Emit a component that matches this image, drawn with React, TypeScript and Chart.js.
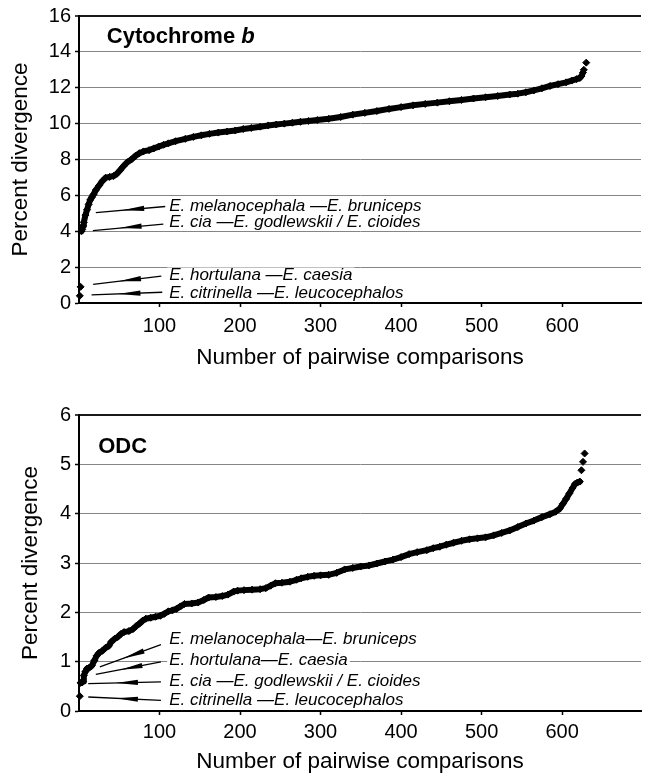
import React, { useEffect, useRef } from "react";
import { Chart, registerables } from "chart.js";

Chart.register(...registerables);

const FONT = '"Liberation Sans", Arial, Helvetica, sans-serif';

// ---------- shared x axis ----------
const X_TICK_LABELS = [100, 200, 300, 400, 500, 600];
const X_MAX = 698;
const X_TITLE = "Number of pairwise comparisons";
const Y_TITLE = "Percent divergence";

// ---------- Cytochrome b ----------
const CYT_Y_MAX = 16;
const CYT_Y_STEP = 2;
const CYT_CURVE_X = [3, 4, 5, 6, 8, 10, 12, 14, 16, 18, 21, 25, 29, 33, 38, 43, 47, 51, 55, 60, 65, 70, 75, 80, 87, 93, 99, 105, 111, 120, 132, 142, 152, 162, 173, 184, 194, 204, 214, 225, 235, 245, 255, 265, 275, 285, 296, 310, 325, 340, 355, 370, 385, 400, 415, 430, 445, 460, 475, 490, 505, 520, 535, 545, 555, 565, 575, 585, 595, 605, 612, 618, 622, 624, 626];
const CYT_CURVE_Y = [4.0, 4.1, 4.3, 4.5, 4.9, 5.2, 5.5, 5.75, 5.9, 6.05, 6.3, 6.55, 6.8, 6.98, 7.03, 7.08, 7.2, 7.4, 7.62, 7.85, 8.0, 8.2, 8.35, 8.45, 8.52, 8.62, 8.72, 8.82, 8.9, 9.02, 9.15, 9.26, 9.35, 9.43, 9.5, 9.56, 9.62, 9.7, 9.76, 9.83, 9.9, 9.95, 10.0, 10.05, 10.1, 10.15, 10.2, 10.27, 10.37, 10.5, 10.6, 10.7, 10.82, 10.92, 11.02, 11.1, 11.17, 11.25, 11.32, 11.4, 11.47, 11.54, 11.62, 11.67, 11.75, 11.85, 11.97, 12.1, 12.2, 12.3, 12.4, 12.48, 12.55, 12.65, 12.85];
const CYT_DOT_X = [1, 2, 627, 630];
const CYT_DOT_Y = [0.4, 0.9, 13.0, 13.4];
const CYT_LABELS = [
  "E. melanocephala \u2014E. bruniceps",
  "E. cia \u2014E. godlewskii / E. cioides",
  "E. hortulana \u2014E. caesia",
  "E. citrinella \u2014E. leucocephalos",
];
const CYT_LABEL_Y = [5.43, 4.54, 1.56, 0.59];
const CYT_ARROW_FROM_X = [107.1, 104.7, 102.2, 103.4];
const CYT_ARROW_FROM_Y = [5.38, 4.4, 1.5, 0.6];
const CYT_ARROW_TO_X = [20.9, 17.2, 17.6, 15.6];
const CYT_ARROW_TO_Y = [5.04, 4.04, 1.04, 0.45];

// ---------- ODC ----------
const ODC_Y_MAX = 6;
const ODC_Y_STEP = 1;
const ODC_CURVE_X = [2, 4, 5, 6, 8, 10, 13, 16, 19, 22, 25, 29, 33, 37, 40, 44, 48, 52, 56, 62, 67, 71, 75, 79, 83, 89, 95, 101, 106, 111, 116, 121, 126, 131, 140, 148, 155, 161, 170, 178, 185, 192, 197, 205, 215, 225, 232, 238, 244, 252, 262, 270, 276, 284, 292, 300, 310, 320, 330, 340, 350, 360, 370, 380, 390, 400, 410, 420, 432, 440, 448, 456, 465, 475, 485, 495, 505, 515, 525, 535, 545, 555, 565, 575, 585, 592, 597, 601, 605, 609, 613, 616, 619, 622];
const ODC_CURVE_Y = [0.57, 0.58, 0.6, 0.72, 0.8, 0.86, 0.88, 0.92, 1.02, 1.12, 1.18, 1.22, 1.28, 1.32, 1.4, 1.46, 1.5, 1.56, 1.6, 1.62, 1.66, 1.72, 1.77, 1.83, 1.87, 1.89, 1.91, 1.93, 1.97, 2.02, 2.04, 2.07, 2.12, 2.17, 2.18, 2.2, 2.25, 2.3, 2.31, 2.33, 2.36, 2.42, 2.44, 2.45, 2.46, 2.47, 2.49, 2.54, 2.59, 2.6, 2.62, 2.66, 2.69, 2.72, 2.74, 2.75, 2.76, 2.8, 2.87, 2.9, 2.93, 2.95, 2.99, 3.03, 3.07, 3.12, 3.18, 3.22, 3.26, 3.3, 3.33, 3.37, 3.41, 3.45, 3.48, 3.5, 3.52, 3.56, 3.61, 3.66, 3.73, 3.8, 3.86, 3.93, 3.99, 4.04, 4.1, 4.2, 4.3, 4.41, 4.52, 4.6, 4.63, 4.65];
const ODC_DOT_X = [1, 624, 626, 628];
const ODC_DOT_Y = [0.3, 4.88, 5.05, 5.22];
const ODC_LABELS = [
  "E. melanocephala\u2014E. bruniceps",
  "E. hortulana\u2014E. caesia",
  "E. cia \u2014E. godlewskii / E. cioides",
  "E. citrinella \u2014E. leucocephalos",
];
const ODC_LABEL_Y = [1.47, 1.04, 0.62, 0.23];
const ODC_ARROW_FROM_X = [101.8, 101.8, 101.8, 101.8];
const ODC_ARROW_FROM_Y = [1.344, 0.995, 0.589, 0.217];
const ODC_ARROW_TO_X = [25.9, 20.9, 11.5, 11.5];
const ODC_ARROW_TO_Y = [0.894, 0.741, 0.556, 0.284];

const LABEL_X = 112;

type PanelCfg = {
  height: number;
  padTop: number;
  xAxisH: number;
  xTickPad: number;
  xTitlePadBottom: number;
  yTitlePad: number;
  yMax: number;
  yStep: number;
  curveX: number[];
  curveY: number[];
  dotX: number[];
  dotY: number[];
  labels: string[];
  labelY: number[];
  fromX: number[];
  fromY: number[];
  toX: number[];
  toY: number[];
  title: string;
  titleItalic: string;
  titleAt: [number, number];
};

const PANELS: PanelCfg[] = [
  {
    height: 380,
    padTop: 16,
    xAxisH: 77,
    xTickPad: 7,
    xTitlePadBottom: 8.5,
    yTitlePad: 7,
    yMax: CYT_Y_MAX,
    yStep: CYT_Y_STEP,
    curveX: CYT_CURVE_X,
    curveY: CYT_CURVE_Y,
    dotX: CYT_DOT_X,
    dotY: CYT_DOT_Y,
    labels: CYT_LABELS,
    labelY: CYT_LABEL_Y,
    fromX: CYT_ARROW_FROM_X,
    fromY: CYT_ARROW_FROM_Y,
    toX: CYT_ARROW_TO_X,
    toY: CYT_ARROW_TO_Y,
    title: "Cytochrome ",
    titleItalic: "b",
    titleAt: [34.5, 14.84],
  },
  {
    height: 395,
    padTop: 35,
    xAxisH: 64,
    xTickPad: 5,
    xTitlePadBottom: 0,
    yTitlePad: 17,
    yMax: ODC_Y_MAX,
    yStep: ODC_Y_STEP,
    curveX: ODC_CURVE_X,
    curveY: ODC_CURVE_Y,
    dotX: ODC_DOT_X,
    dotY: ODC_DOT_Y,
    labels: ODC_LABELS,
    labelY: ODC_LABEL_Y,
    fromX: ODC_ARROW_FROM_X,
    fromY: ODC_ARROW_FROM_Y,
    toX: ODC_ARROW_TO_X,
    toY: ODC_ARROW_TO_Y,
    title: "ODC",
    titleItalic: "",
    titleAt: [23.8, 5.36],
  },
];

function drawArrow(ctx: CanvasRenderingContext2D, x1: number, y1: number, x2: number, y2: number) {
  ctx.save();
  ctx.strokeStyle = "#000";
  ctx.fillStyle = "#000";
  ctx.lineWidth = 1.3;
  ctx.beginPath();
  ctx.moveTo(x1, y1);
  ctx.lineTo(x2, y2);
  ctx.stroke();
  const dx = x2 - x1;
  const dy = y2 - y1;
  const len = Math.hypot(dx, dy);
  const ux = dx / len;
  const uy = dy / len;
  const tx = x1 + dx * 0.62;
  const ty = y1 + dy * 0.62;
  const bx = tx - ux * 22;
  const by = ty - uy * 22;
  const px = -uy;
  const py = ux;
  ctx.beginPath();
  ctx.moveTo(tx, ty);
  ctx.lineTo(bx + px * 2.6, by + py * 2.6);
  ctx.lineTo(bx - px * 2.6, by - py * 2.6);
  ctx.closePath();
  ctx.fill();
  ctx.restore();
}

function makeAnnotPlugin(p: PanelCfg) {
  return {
    id: "annot",
    afterDatasetsDraw(chart: any) {
      const ctx: CanvasRenderingContext2D = chart.ctx;
      const xs = chart.scales.x;
      const ys = chart.scales.y;
      ctx.save();
      ctx.textBaseline = "middle";
      ctx.textAlign = "left";
      ctx.fillStyle = "#000";
      const tx = xs.getPixelForValue(p.titleAt[0]);
      const ty = ys.getPixelForValue(p.titleAt[1]);
      ctx.font = `bold 22px ${FONT}`;
      ctx.fillText(p.title, tx, ty);
      if (p.titleItalic) {
        const w = ctx.measureText(p.title).width;
        ctx.font = `italic bold 22px ${FONT}`;
        ctx.fillText(p.titleItalic, tx + w, ty);
      }
      ctx.font = `italic 17px ${FONT}`;
      for (let i = 0; i < p.labels.length; i++) {
        const lx = xs.getPixelForValue(LABEL_X);
        const ly = ys.getPixelForValue(p.labelY[i]);
        const w = ctx.measureText(p.labels[i]).width;
        ctx.fillStyle = "#fff";
        ctx.fillRect(lx - 2, ly - 7.5, w + 4, 15);
        ctx.fillStyle = "#000";
        ctx.fillText(p.labels[i], lx, ly + 0.5);
      }
      for (let i = 0; i < p.labels.length; i++) {
        drawArrow(
          ctx,
          xs.getPixelForValue(p.fromX[i]),
          ys.getPixelForValue(p.fromY[i]),
          xs.getPixelForValue(p.toX[i]),
          ys.getPixelForValue(p.toY[i])
        );
      }
      ctx.restore();
    },
  };
}

function Panel({ cfg }: { cfg: PanelCfg }) {
  const ref = useRef<HTMLCanvasElement | null>(null);
  useEffect(() => {
    if (!ref.current) return;
    const curve = cfg.curveX.map((x, i) => ({ x, y: cfg.curveY[i] }));
    const dots = cfg.dotX.map((x, i) => ({ x, y: cfg.dotY[i] }));
    const pointCommon = {
      pointStyle: "rectRot",
      pointRadius: 3.5,
      pointBackgroundColor: "#000",
      pointBorderColor: "#000",
      pointBorderWidth: 1,
      clip: false,
    };
    const chart = new Chart(ref.current, {
      type: "scatter",
      data: {
        datasets: [
          {
            data: curve,
            showLine: true,
            borderColor: "#000",
            borderWidth: 6,
            borderJoinStyle: "round",
            borderCapStyle: "round",
            ...pointCommon,
          } as any,
          {
            data: dots,
            showLine: false,
            ...pointCommon,
          } as any,
        ],
      },
      options: {
        responsive: false,
        devicePixelRatio: 1,
        animation: false,
        events: [],
        layout: { padding: { top: cfg.padTop, left: 0, right: 0, bottom: 0 } },
        plugins: { legend: { display: false }, tooltip: { enabled: false } },
        scales: {
          x: {
            type: "linear",
            min: 0,
            max: X_MAX,
            afterBuildTicks: (s: any) => {
              s.ticks = [0, ...X_TICK_LABELS].map((v) => ({ value: v }));
            },
            afterFit: (s: any) => {
              s.height = cfg.xAxisH;
            },
            ticks: {
              autoSkip: false,
              maxRotation: 0,
              minRotation: 0,
              padding: cfg.xTickPad,
              color: "#000",
              font: { family: FONT, size: 20 },
              callback: (v: any) => (Number(v) === 0 ? "" : String(v)),
            },
            grid: {
              drawOnChartArea: false,
              drawTicks: true,
              tickLength: 4,
              tickWidth: 1.5,
              tickColor: (c: any) =>
                c.tick && c.tick.value !== 0 ? "#000" : "rgba(0,0,0,0)",
            },
            border: { color: "#000", width: 2 },
            title: {
              display: true,
              text: X_TITLE,
              color: "#000",
              font: { family: FONT, size: 22.5 },
              padding: { top: 0, bottom: cfg.xTitlePadBottom },
            },
          },
          y: {
            type: "linear",
            min: 0,
            max: cfg.yMax,
            afterFit: (s: any) => {
              s.width = 79;
            },
            ticks: {
              stepSize: cfg.yStep,
              padding: 4,
              color: "#000",
              font: { family: FONT, size: 20 },
            },
            grid: {
              color: (c: any) => (c.tick && c.tick.value === cfg.yMax ? "#1a1a1a" : "#858585"),
              lineWidth: (c: any) => (c.tick && c.tick.value === cfg.yMax ? 2 : 1),
              tickLength: 4,
              tickWidth: 1.5,
              tickColor: "#000",
            },
            border: { color: "#000", width: 2 },
            title: {
              display: true,
              text: Y_TITLE,
              color: "#000",
              font: { family: FONT, size: 22.5 },
              padding: { top: cfg.yTitlePad, bottom: 0 },
            },
          },
        },
      } as any,
      plugins: [makeAnnotPlugin(cfg)],
    });
    return () => chart.destroy();
  }, [cfg]);
  return <canvas ref={ref} width={646} height={cfg.height} style={{ display: "block" }} />;
}

export default function App() {
  return (
    <div
      style={{
        position: "absolute",
        left: 0,
        top: 0,
        width: 646,
        height: 775,
        background: "#fff",
        overflow: "hidden",
      }}
    >
      <Panel cfg={PANELS[0]} />
      <Panel cfg={PANELS[1]} />
    </div>
  );
}
